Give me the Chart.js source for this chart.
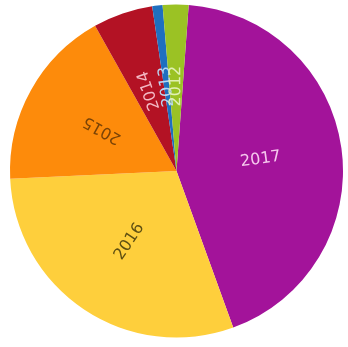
<!DOCTYPE html>
<html>
<head>
<meta charset="utf-8">
<script src="https://cdn.jsdelivr.net/npm/chart.js@4"></script>
<style>
  html, body { margin: 0; padding: 0; background: #fff; }
  #wrap { width: 348px; height: 347px; }
</style>
</head>
<body>
<div id="wrap"><canvas id="pie"></canvas></div>
<script>
const years = ['2017', '2016', '2015', '2014', '2013', '2012'];
const shares = [43.3, 29.8, 17.6, 5.8, 1.0, 2.5];
const sliceColors = ['#a3139a', '#fecf3c', '#fd8b0b', '#b31224', '#1f6fbf', '#9bc224'];
const labelColors = ['#f6c8ee', '#5e4f12', '#7a4306', '#f3b8c4', '#b9d6f3', '#e1f0b4'];
// 2016 reads inwards, the rest read outwards along the radius
const flipLabel = [false, true, false, false, false, false];

// draws each year rotated along the middle of its slice
const sliceLabels = {
  id: 'sliceLabels',
  afterDatasetsDraw(chart) {
    const ctx = chart.ctx;
    const meta = chart.getDatasetMeta(0);
    meta.data.forEach((arc, i) => {
      const mid = (arc.startAngle + arc.endAngle) / 2;
      const r = arc.outerRadius * 0.51;
      const x = arc.x + Math.cos(mid) * r;
      const y = arc.y + Math.sin(mid) * r;
      ctx.save();
      ctx.translate(x, y);
      ctx.rotate(flipLabel[i] ? mid + Math.PI : mid);
      ctx.font = '16px "DejaVu Sans"';
      ctx.fillStyle = labelColors[i];
      ctx.textAlign = 'center';
      ctx.textBaseline = 'middle';
      ctx.fillText(years[i], 0, 0);
      ctx.restore();
    });
  }
};

new Chart(document.getElementById('pie').getContext('2d'), {
  type: 'pie',
  data: {
    labels: years,
    datasets: [{
      data: shares,
      backgroundColor: sliceColors,
      borderWidth: 0
    }]
  },
  options: {
    responsive: true,
    maintainAspectRatio: false,
    animation: false,
    rotation: 4.2,
    layout: { padding: { top: 4, bottom: 9, left: 10, right: 5 } },
    plugins: {
      legend: { display: false },
      tooltip: { enabled: false }
    }
  },
  plugins: [sliceLabels]
});
</script>
</body>
</html>
